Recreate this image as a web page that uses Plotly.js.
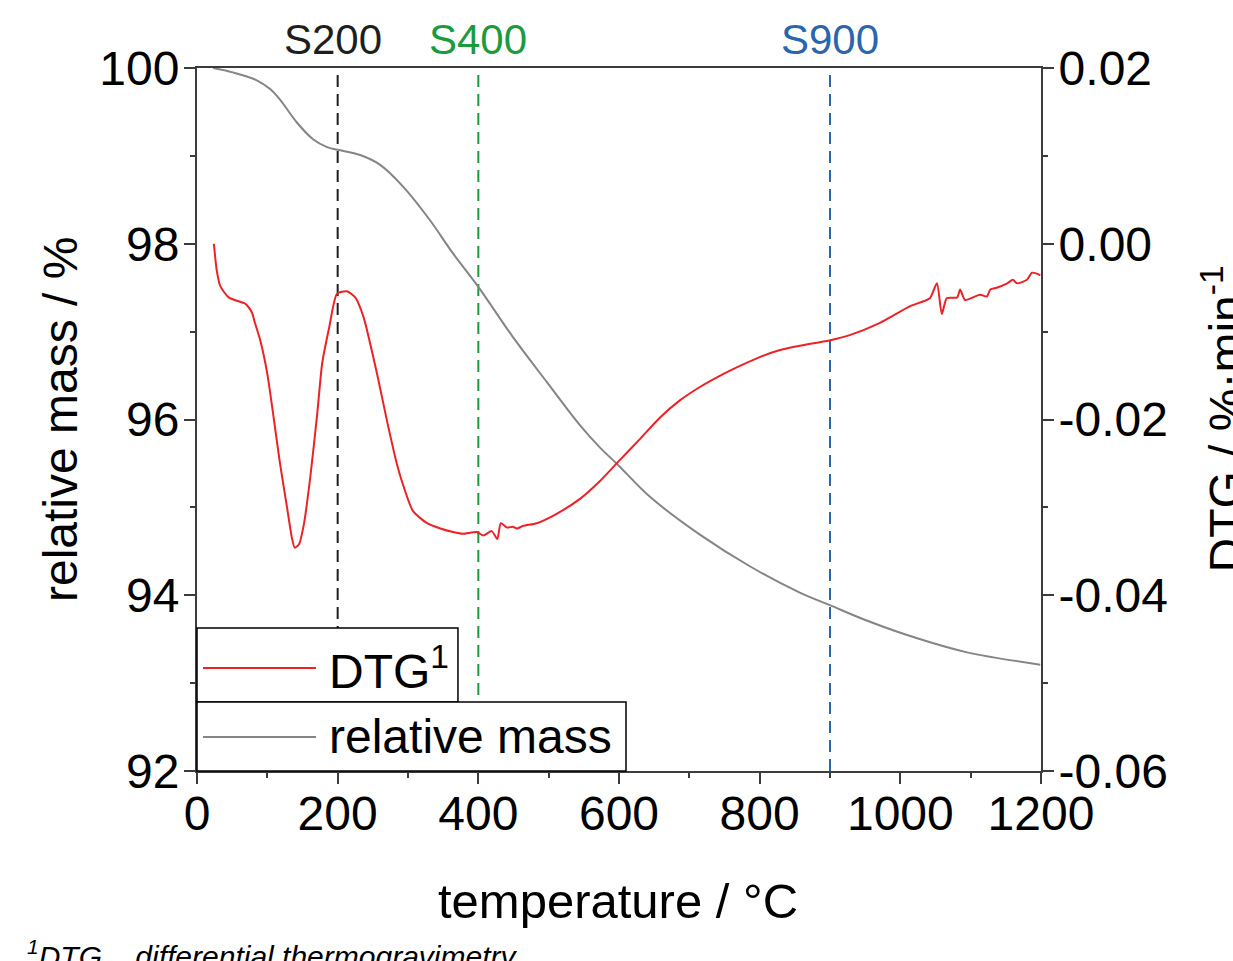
<!DOCTYPE html>
<html>
<head>
<meta charset="utf-8">
<script src="https://cdn.plot.ly/plotly-3.0.1.min.js"></script>
<style>html,body{margin:0;padding:0;background:#fff;}</style>
</head>
<body>
<div id="chart" style="width:1233px;height:961px;"></div>
<script>
// ---- data ----
var massTemp = [23, 51, 85, 104, 118, 142, 165, 185, 200, 232, 260, 293, 331, 364, 400, 449, 498, 545, 573, 599, 644, 715, 786, 857, 899, 953, 1024, 1095, 1199];
var massValues = [100.00, 99.95, 99.86, 99.76, 99.64, 99.38, 99.19, 99.10, 99.07, 99.01, 98.90, 98.65, 98.27, 97.89, 97.51, 96.94, 96.42, 95.93, 95.68, 95.48, 95.12, 94.69, 94.33, 94.03, 93.89, 93.71, 93.51, 93.35, 93.21];

var dtgTemp = [24, 28, 33, 45, 68, 71, 78, 82, 90, 100, 109, 118, 128, 135, 139, 145, 152, 161, 171, 178, 188, 199, 213, 225, 237, 256, 270, 284, 292, 307, 327, 346, 364, 378, 398, 407, 419, 427, 432, 441, 449, 455, 464, 483, 512, 545, 573, 599, 630, 658, 687, 715, 744, 772, 800, 829, 857, 899, 928, 971, 1014, 1042, 1052, 1059, 1066, 1081, 1085, 1092, 1113, 1123, 1128, 1137, 1152, 1160, 1166, 1180, 1187, 1194, 1199];
var dtgValues = [0.0000, -0.0030, -0.0048, -0.0061, -0.0068, -0.0070, -0.0078, -0.0089, -0.0110, -0.0148, -0.0198, -0.0250, -0.0300, -0.0335, -0.0346, -0.0342, -0.0319, -0.0266, -0.0193, -0.0136, -0.0095, -0.0057, -0.0054, -0.0061, -0.0084, -0.0148, -0.0201, -0.0250, -0.0272, -0.0304, -0.0318, -0.0324, -0.0328, -0.0330, -0.0328, -0.0332, -0.0327, -0.0336, -0.0318, -0.0323, -0.0322, -0.0324, -0.0321, -0.0318, -0.0307, -0.0290, -0.0270, -0.0248, -0.0222, -0.0198, -0.0178, -0.0163, -0.0150, -0.0139, -0.0129, -0.0121, -0.0116, -0.0110, -0.0104, -0.0090, -0.0071, -0.0062, -0.0045, -0.0080, -0.0062, -0.0061, -0.0052, -0.0064, -0.0058, -0.0060, -0.0052, -0.0050, -0.0045, -0.0041, -0.0045, -0.0041, -0.0033, -0.0034, -0.0036];

var xTickVals = [0, 200, 400, 600, 800, 1000, 1200];
var xMinorVals = [100, 300, 500, 700, 900, 1100];
var yTickVals = [92, 94, 96, 98, 100];
var yMinorVals = [93, 95, 97, 99];
var y2TickVals = [-0.06, -0.04, -0.02, 0.00, 0.02];
var y2TickText = ['-0.06', '-0.04', '-0.02', '0.00', '0.02'];
var y2MinorVals = [-0.05, -0.03, -0.01, 0.01];

var sampleTemps = [200, 400, 900];
var sampleLabels = ['S200', 'S400', 'S900'];
var sampleColors = ['#1e1e1e', '#1b9a3e', '#2a66ad'];

// ---- styles ----
var axisCol = '#3c3c3c';
var FONT = 'Liberation Sans, Arial, Helvetica, sans-serif';

var traces = [
  {x: dtgTemp, y: dtgValues, yaxis: 'y2', type: 'scatter', mode: 'lines', name: 'DTG',
   line: {color: '#ec2227', width: 2, shape: 'spline', smoothing: 0.6}, hoverinfo: 'x+y'},
  {x: massTemp, y: massValues, yaxis: 'y', type: 'scatter', mode: 'lines', name: 'relative mass',
   line: {color: '#858585', width: 2, shape: 'spline', smoothing: 1.0}, hoverinfo: 'x+y'}
];

function axisBase() {
  return {
    showgrid: false, zeroline: false, showline: true, linecolor: axisCol, linewidth: 2,
    ticks: 'outside', ticklen: 11, tickwidth: 2, tickcolor: axisCol,
    tickfont: {family: FONT, size: 48, color: '#000'}
  };
}

var xaxis = Object.assign(axisBase(), {
  range: [0, 1200], tickmode: 'array', tickvals: xTickVals, mirror: true, ticklabelstandoff: -12,
  minor: {tickvals: xMinorVals, ticks: 'outside', ticklen: 5, tickwidth: 2, tickcolor: axisCol, showgrid: false}
});
var yaxis = Object.assign(axisBase(), {
  range: [92, 100], tickmode: 'array', tickvals: yTickVals, ticklabelstandoff: -5,
  minor: {tickvals: yMinorVals, ticks: 'outside', ticklen: 5, tickwidth: 2, tickcolor: axisCol, showgrid: false}
});
var yaxis2 = Object.assign(axisBase(), {
  range: [-0.06, 0.02], overlaying: 'y', side: 'right', tickmode: 'array', ticklabelstandoff: -5,
  tickvals: y2TickVals, ticktext: y2TickText,
  minor: {tickvals: y2MinorVals, ticks: 'outside', ticklen: 5, tickwidth: 2, tickcolor: axisCol, showgrid: false}
});

var shapes = [];
sampleTemps.forEach(function (t, i) {
  shapes.push({type: 'line', xref: 'x', yref: 'paper', x0: t, x1: t, y0: 0.99, y1: 0, layer: 'below',
    line: {color: sampleColors[i], width: 2, dash: '12px,7px'}});
});
// legend boxes (two separate framed entries)
shapes.push({type: 'rect', xref: 'paper', yref: 'paper', x0: 0, x1: 0.3092, y0: 0.0982, y1: 0.2034,
  fillcolor: '#fff', line: {color: '#000', width: 1.5}, layer: 'above'});
shapes.push({type: 'rect', xref: 'paper', yref: 'paper', x0: 0, x1: 0.5083, y0: 0, y1: 0.0982,
  fillcolor: '#fff', line: {color: '#000', width: 1.5}, layer: 'above'});
shapes.push({type: 'line', xref: 'paper', yref: 'paper', x0: 0.0071, x1: 0.1410, y0: 0.1465, y1: 0.1465,
  line: {color: '#ec2227', width: 2}, layer: 'above'});
shapes.push({type: 'line', xref: 'paper', yref: 'paper', x0: 0.0071, x1: 0.1410, y0: 0.0484, y1: 0.0484,
  line: {color: '#858585', width: 2}, layer: 'above'});

var annotations = [];
var labelCenters = [193, 400, 900];
sampleTemps.forEach(function (t, i) {
  annotations.push({x: labelCenters[i], xref: 'x', y: 1.04, yref: 'paper', text: sampleLabels[i], showarrow: false,
    xanchor: 'center', yanchor: 'middle', font: {family: FONT, size: 42, color: sampleColors[i]}});
});
annotations.push({x: 0.1540, xref: 'paper', y: 0.1465, yref: 'paper', text: 'DTG<sup>1</sup>', showarrow: false,
  xanchor: 'left', yanchor: 'middle', font: {family: FONT, size: 48, color: '#000'}});
annotations.push({x: 0.1540, xref: 'paper', y: 0.0484, yref: 'paper', text: 'relative mass', showarrow: false,
  xanchor: 'left', yanchor: 'middle', font: {family: FONT, size: 48, color: '#000'}});
// axis titles
annotations.push({x: 0.4988, xref: 'paper', y: -0.1849, yref: 'paper', text: 'temperature / °C', showarrow: false,
  xanchor: 'center', yanchor: 'middle', font: {family: FONT, size: 49, color: '#000'}});
annotations.push({x: -0.1611, xref: 'paper', y: 0.4993, yref: 'paper', text: 'relative mass / %', showarrow: false,
  textangle: -90, xanchor: 'center', yanchor: 'middle', font: {family: FONT, size: 48, color: '#000'}});
annotations.push({x: 1.2145, xref: 'paper', y: 0.50, yref: 'paper', text: 'DTG / %·min<sup>-1</sup>', showarrow: false,
  textangle: -90, xanchor: 'center', yanchor: 'middle', font: {family: FONT, size: 48, color: '#000'}});
// footnote
annotations.push({x: -0.2035, xref: 'paper', y: -0.2304, yref: 'paper', text: '<i><sup>1</sup>DTG... differential thermogravimetry</i>',
  showarrow: false, xanchor: 'left', yanchor: 'top', font: {family: FONT, size: 30, color: '#000'}});

var layout = {
  width: 1233, height: 961,
  margin: {l: 197, r: 192, t: 68, b: 190, pad: 0},
  paper_bgcolor: '#fff', plot_bgcolor: '#fff',
  showlegend: false,
  font: {family: FONT, size: 48, color: '#000'},
  xaxis: xaxis, yaxis: yaxis, yaxis2: yaxis2,
  shapes: shapes, annotations: annotations
};

Plotly.newPlot('chart', traces, layout, {displayModeBar: false, staticPlot: true});
</script>
</body>
</html>
